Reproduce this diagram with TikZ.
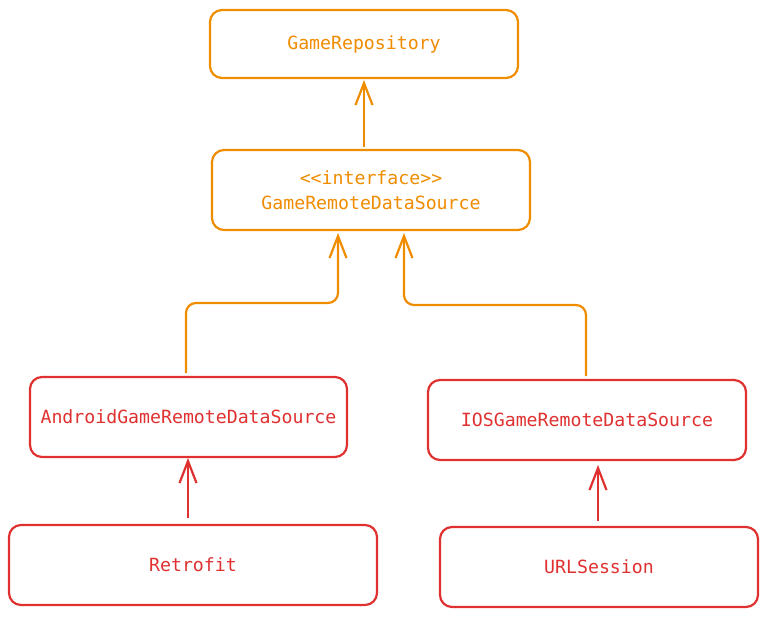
\documentclass[tikz,border=0pt]{standalone}
\usepackage{fontspec}
\setmonofont{DejaVu Sans Mono}
\usetikzlibrary{arrows.meta}
\definecolor{xorange}{HTML}{F08C00}
\definecolor{xred}{HTML}{E03131}
\tikzset{
  box/.style={draw, line width=2.2pt, rounded corners=12pt, fill=white, font=\ttfamily\fontsize{18.2}{25}\selectfont, align=center, inner sep=0pt},
  obox/.style={box, draw=xorange, text=xorange},
  rbox/.style={box, draw=xred, text=xred},
  conn/.style={line width=2.2pt, rounded corners=10pt, -{Straight Barb[length=22pt,width=17pt,line width=2.2pt]}},
}
\begin{document}
\begin{tikzpicture}[x=1pt,y=-1pt]
\useasboundingbox (0,0) rectangle (768,616);
\node[obox, minimum width=308, minimum height=68] (repo) at (364,44) {GameRepository};
\node[obox, minimum width=318, minimum height=80] (iface) at (371,190) {<<interface>>\\GameRemoteDataSource};
\node[rbox, minimum width=317, minimum height=80] (android) at (188.5,417) {AndroidGameRemoteDataSource};
\node[rbox, minimum width=318, minimum height=80] (ios) at (587,420) {IOSGameRemoteDataSource};
\node[rbox, minimum width=368, minimum height=80] (retro) at (193,565) {Retrofit};
\node[rbox, minimum width=318, minimum height=80] (url) at (599,567) {URLSession};
\coordinate (ifL) at (338,233);
\coordinate (ifR) at (404,233);
\draw[conn, xorange] (iface.north -| 364,0) ++(0,-2) -- (364,80);
\draw[conn, xorange] (186,373) -- (186,303) -- (338,303) -- (ifL);
\draw[conn, xorange] (586,376) -- (586,305) -- (404,305) -- (ifR);
\draw[conn, xred] (retro.north -| 188,0) ++(0,-6) -- (188,458);
\draw[conn, xred] (url.north -| 598,0) ++(0,-5) -- (598,465);
\end{tikzpicture}
\end{document}
